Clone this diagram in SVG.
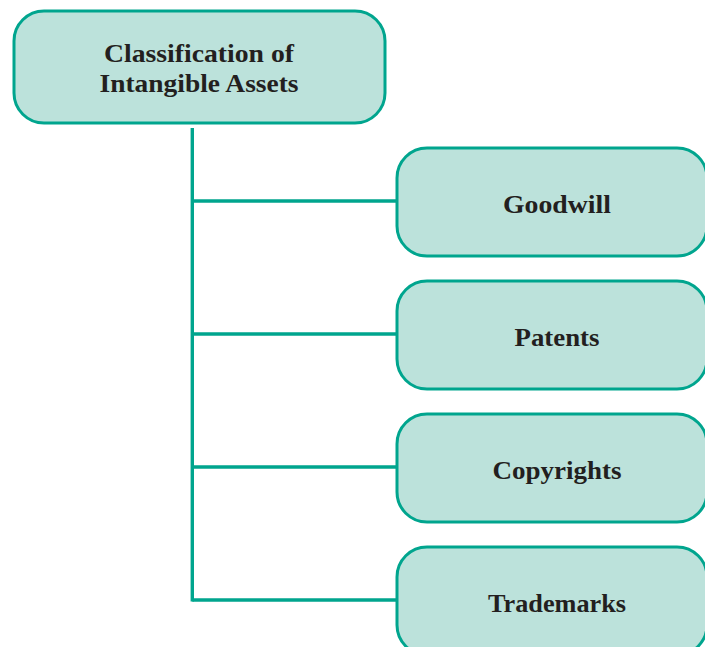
<svg xmlns="http://www.w3.org/2000/svg" width="705" height="647" viewBox="0 0 705 647">
<style>
.box{fill:#BCE2DB;stroke:#00A58E;stroke-width:3}
.lbl{font-family:"Liberation Serif","Times New Roman",serif;font-weight:bold;font-size:25px;fill:#231F20;text-anchor:middle}
.conn{stroke:#00A58E;stroke-width:3.4;fill:none}
</style>
<rect x="0" y="0" width="705" height="647" fill="#FFFFFF"/>
<g id="connectors">
<path class="conn" d="M192.3 128 V601.5"/>
<path class="conn" d="M192.3 201 H397"/>
<path class="conn" d="M192.3 334 H397"/>
<path class="conn" d="M192.3 467 H397"/>
<path class="conn" d="M192.3 600 H397"/>
</g>
<g id="root">
<rect class="box" x="14" y="11" width="371" height="112" rx="30" ry="30"/>
<text class="lbl" x="199" y="62" textLength="190" lengthAdjust="spacingAndGlyphs">Classification of</text>
<text class="lbl" x="199" y="92" textLength="199" lengthAdjust="spacingAndGlyphs">Intangible Assets</text>
</g>
<g id="goodwill">
<rect class="box" x="397" y="148" width="310" height="108" rx="30" ry="30"/>
<text class="lbl" x="557" y="213" textLength="108" lengthAdjust="spacingAndGlyphs">Goodwill</text>
</g>
<g id="patents">
<rect class="box" x="397" y="281" width="310" height="108" rx="30" ry="30"/>
<text class="lbl" x="557" y="346" textLength="85" lengthAdjust="spacingAndGlyphs">Patents</text>
</g>
<g id="copyrights">
<rect class="box" x="397" y="414" width="310" height="108" rx="30" ry="30"/>
<text class="lbl" x="557" y="479" textLength="129" lengthAdjust="spacingAndGlyphs">Copyrights</text>
</g>
<g id="trademarks">
<rect class="box" x="397" y="547" width="310" height="108" rx="30" ry="30"/>
<text class="lbl" x="557" y="612" textLength="138" lengthAdjust="spacingAndGlyphs">Trademarks</text>
</g>
</svg>
